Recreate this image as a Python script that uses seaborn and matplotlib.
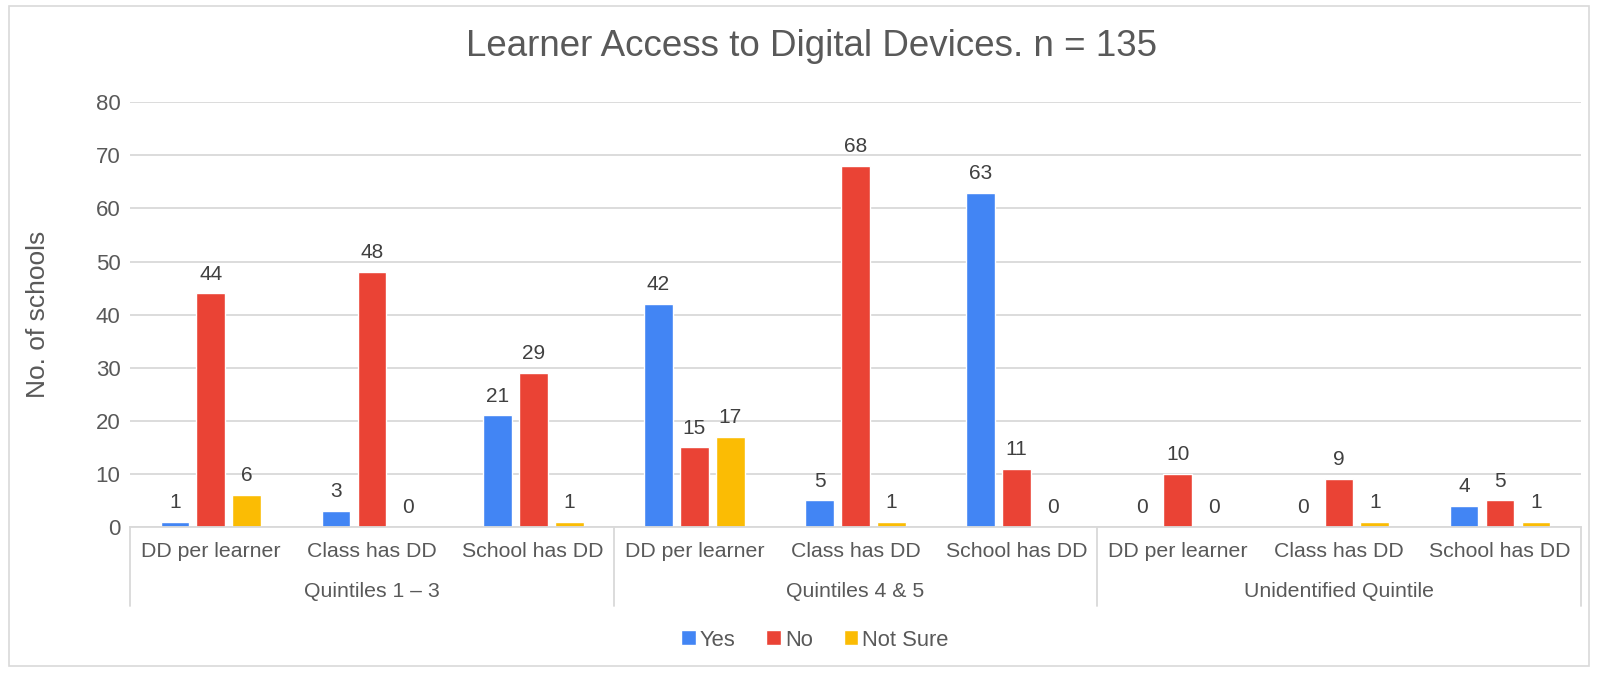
import matplotlib
matplotlib.use("Agg")
import matplotlib.pyplot as plt
import matplotlib.transforms as mtransforms
from matplotlib.patches import Rectangle
import seaborn as sns
import pandas as pd

# ---- data ----
groups = ["Quintiles 1 \u2013 3", "Quintiles 4 & 5", "Unidentified Quintile"]
subcats = ["DD per learner", "Class has DD", "School has DD"]
series = ["Yes", "No", "Not Sure"]
yes_vals = [1, 3, 21, 42, 5, 63, 0, 0, 4]
no_vals = [44, 48, 29, 15, 68, 11, 10, 9, 5]
notsure_vals = [6, 0, 1, 17, 1, 0, 0, 1, 1]
colors = ["#4285F4", "#EA4335", "#FBBC04"]

rows = []
keys = []
for gi, g in enumerate(groups):
    for si, s in enumerate(subcats):
        idx = gi * 3 + si
        key = f"{g}|{s}"
        keys.append(key)
        for ser, vals in zip(series, [yes_vals, no_vals, notsure_vals]):
            rows.append({"cat": key, "series": ser, "value": vals[idx]})
df = pd.DataFrame(rows)

sns.set_theme(style="white")
plt.rcParams["font.family"] = ["Liberation Sans", "DejaVu Sans"]
text_col = "#595959"

fig = plt.figure(figsize=(15.99, 6.73), dpi=100)
# outer chart frame
fig.patches.append(Rectangle((0.0055, 0.010), 0.9885, 0.981, transform=fig.transFigure,
                             fill=False, edgecolor="#D9D9D9", linewidth=1.2))
ax = fig.add_axes([0.0815, 0.217, 0.907, 0.631])

sns.barplot(data=df, x="cat", y="value", hue="series", order=keys, hue_order=series,
            palette=colors, width=0.67, gap=0.2, ax=ax, legend=True, saturation=1)

ax.set_ylim(0, 80)
ax.set_xlim(-0.5, 8.5)
ax.set_yticks(range(0, 81, 10))
ax.yaxis.grid(True, color="#D9D9D9", linewidth=1.3)
ax.set_axisbelow(True)
for sp in ["top", "right", "left"]:
    ax.spines[sp].set_visible(False)
ax.spines["bottom"].set_color("#D9D9D9")
ax.spines["bottom"].set_linewidth(1.3)
ax.tick_params(axis="y", length=0, labelsize=16, labelcolor=text_col, pad=7)
ax.tick_params(axis="x", length=0, labelsize=15.3, labelcolor=text_col, pad=11)
ax.set_xticks(range(len(keys)))
ax.set_xticklabels([k.split("|")[1] for k in keys])
ax.set_xlabel("")
ax.set_ylabel("No. of schools", fontsize=19, color=text_col, labelpad=33)

for cont in ax.containers:
    ax.bar_label(cont, fmt="%d", padding=7, fontsize=15, color="#404040")

# group labels and separators
trans = mtransforms.blended_transform_factory(ax.transData, ax.transAxes)
for gi, g in enumerate(groups):
    ax.text(gi * 3 + 1, -0.151, g, transform=trans, ha="center", va="center",
            fontsize=15.3, color=text_col)
for xb in [-0.5, 2.5, 5.5, 8.5]:
    ax.plot([xb, xb], [0, -0.185], transform=trans, color="#D9D9D9", linewidth=1.3,
            clip_on=False)

fig.text(811 / 1599, 1 - 47 / 673, "Learner Access to Digital Devices. n = 135",
         ha="center", va="center", fontsize=26.5, color=text_col)

leg = ax.legend(loc="center", ncol=3, frameon=False,
                fontsize=15.8, handlelength=0.65, handleheight=0.65, handletextpad=0.2,
                columnspacing=1.4, labelcolor=text_col)
leg.set_bbox_to_anchor((815 / 1599, 1 - 640 / 673), transform=fig.transFigure)

fig.savefig("out.png", dpi=100)
